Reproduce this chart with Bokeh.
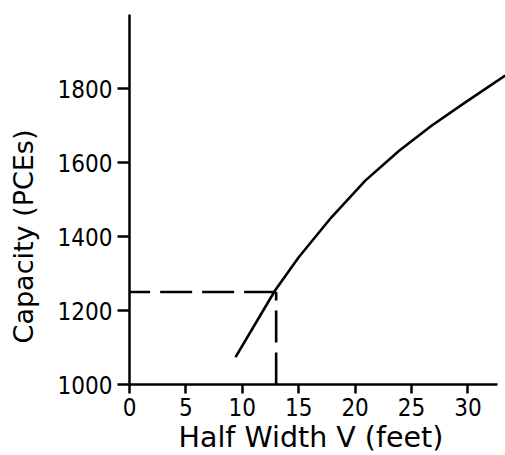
from bokeh.plotting import figure
from bokeh.models import Range1d, FixedTicker, Title, LinearAxis
from bokeh.embed import file_html
from bokeh.resources import INLINE

# ---- data ----
half_width = [9.4, 12.9, 15.0, 17.9, 20.9, 23.9, 26.8, 29.8, 33.3]
capacity = [1074, 1254, 1344, 1452, 1551, 1632, 1700, 1763, 1835]

guide_x = 13      # feet
guide_y = 1250    # PCEs

x_ticks = [0, 5, 10, 15, 20, 25, 30]
y_ticks = [1000, 1200, 1400, 1600, 1800]

x_title = "Half Width V (feet)"
y_title = "Capacity (PCEs)"
y_title_at = 1400   # the y title is centred on the 1000-1800 tick span

TICK_FONT = "DejaVu Sans Condensed"
TITLE_FONT = "DejaVu Sans"

p = figure(width=505, height=455, output_backend="svg", toolbar_location=None,
           x_range=Range1d(0, 33.33), y_range=Range1d(1000, 2000),
           min_border_left=129, min_border_right=0, min_border_top=14,
           min_border_bottom=71)
p.outline_line_color = None
p.xgrid.visible = False
p.ygrid.visible = False
p.background_fill_color = "white"
p.border_fill_color = "white"

# curve
p.line(half_width, capacity, line_color="black", line_width=2.6)

# dashed guides
p.line([guide_x, 0], [guide_y, guide_y], line_color="black", line_width=2.6,
       line_dash="32 10")
p.line([guide_x, guide_x], [1000, guide_y], line_color="black", line_width=2.6,
       line_dash="32 10")

# axes
xa = p.xaxis[0]
xa.ticker = FixedTicker(ticks=x_ticks)
xa.bounds = (0, 32.66)
ya = p.yaxis[0]
ya.ticker = FixedTicker(ticks=y_ticks)
ya.bounds = (1000, 2000)

for ax in (xa, ya):
    ax.axis_line_width = 2.5
    ax.axis_line_color = "black"
    ax.major_tick_line_width = 2.5
    ax.major_tick_line_color = "black"
    ax.minor_tick_line_color = None
    ax.major_tick_in = 0
    ax.major_label_text_font = TICK_FONT
    ax.major_label_text_font_size = "24px"
    ax.major_label_text_color = "black"

xa.major_tick_out = 9
xa.major_label_standoff = 4
ya.major_tick_out = 12
ya.major_label_standoff = 5

# x title below the axis
p.add_layout(Title(text=x_title, align="left", offset=49,
                   text_font=TITLE_FONT, text_font_size="28.5px",
                   text_font_style="normal", text_color="black",
                   standoff=0), "below")

# y title: an outer left axis whose single (rotated) label is the title
ytitle_axis = LinearAxis(ticker=FixedTicker(ticks=[y_title_at]),
                         major_label_overrides={y_title_at: y_title},
                         major_label_orientation="parallel",
                         axis_line_color=None, major_tick_line_color=None,
                         minor_tick_line_color=None, major_tick_out=0,
                         major_tick_in=0, major_label_standoff=16,
                         major_label_text_font=TITLE_FONT,
                         major_label_text_font_size="27px",
                         major_label_text_color="black")
p.add_layout(ytitle_axis, "left")

open("out.html", "w").write(file_html(p, INLINE))
